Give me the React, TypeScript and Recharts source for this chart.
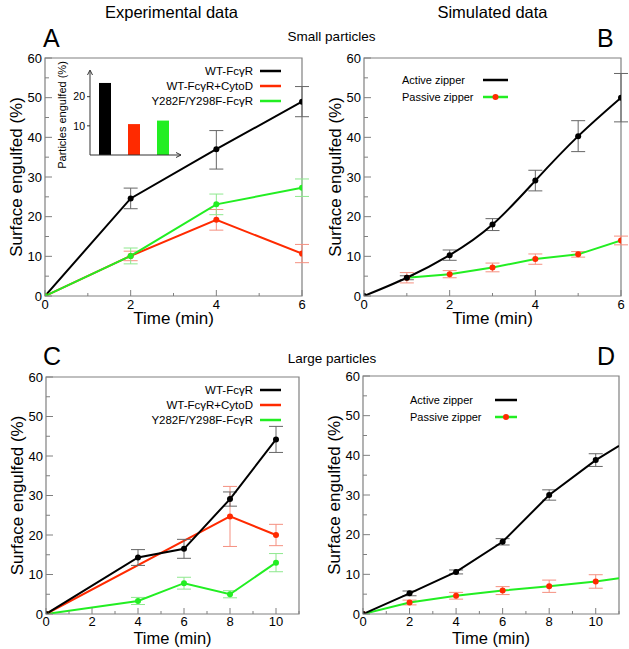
import React from "react";
import {
  LineChart,
  Line,
  XAxis,
  YAxis,
  ErrorBar,
  ReferenceArea,
  BarChart,
  Bar,
  Cell,
} from "recharts";

const FONT = '"Liberation Sans", Arial, Helvetica, sans-serif';
const BLACK = "#000000";
const RED = "#ff2a00";
const GREEN = "#22ee22";
const FRAME = "#808080";
const ERR_BLACK = "#666666";
const ERR_RED = "#f59080";
const ERR_GREEN = "#8ee88e";

type Err = number | [number, number] | undefined;

// A: small particles, experimental
const timeA = [0, 2, 4, 6];
const wtA = [0, 24.6, 37.0, 49.0];
const wtAErr: Err[] = [undefined, 2.6, [5.0, 4.7], 3.8];
const cytoA = [0, 10.1, 19.2, 10.7];
const cytoAErr: Err[] = [undefined, 1.2, 2.6, 2.3];
const mutA = [0, 10.1, 23.1, 27.3];
const mutAErr: Err[] = [undefined, 2.0, 2.6, 2.2];

// inset: particles engulfed
const insetNames = ["WT-FcγR", "WT-FcγR+CytoD", "Y282F/Y298F-FcγR"];
const insetValues = [24.7, 10.6, 11.8];

// B: small particles, simulated
const timeB = [0, 1, 2, 3, 4, 5, 6];
const activeB = [0, 4.6, 10.3, 18.0, 29.1, 40.3, 50.0];
const activeBErr: Err[] = [undefined, 0.5, 1.3, 1.5, 2.6, 3.9, 6.1];
const timeBPassive = [1, 2, 3, 4, 5, 6];
const passiveB = [4.6, 5.5, 7.2, 9.3, 10.5, 14.0];
const passiveBErr: Err[] = [1.3, 0.9, 1.1, 1.3, 0.7, 1.1];

// C: large particles, experimental
const timeC = [0, 4, 6, 8, 10];
const wtC = [0, 14.3, 16.5, 29.1, 44.2];
const wtCErr: Err[] = [undefined, 2.0, 2.4, 1.8, 3.3];
const timeCCyto = [0, 8, 10];
const cytoC = [0, 24.7, 20.0];
const cytoCErr: Err[] = [undefined, 7.6, 2.7];
const mutC = [0, 3.3, 7.8, 5.0, 13.0];
const mutCErr: Err[] = [undefined, 0.9, 1.5, 0.9, 2.3];

// D: large particles, simulated (last point is the curve end, no marker)
const timeD = [0, 2, 4, 6, 8, 10, 11];
const activeD = [0, 5.2, 10.6, 18.2, 30.0, 38.8, 42.4];
const activeDErr: Err[] = [undefined, 0.6, 0.5, 0.8, 1.3, 1.6, undefined];
const passiveD = [0, 2.9, 4.6, 5.9, 7.0, 8.2, 9.0];
const passiveDErr: Err[] = [undefined, 0.6, 0.85, 1.0, 1.55, 1.7, undefined];

const yTicks = [0, 5, 10, 15, 20, 25, 30, 35, 40, 45, 50, 55, 60];
const xTicksShort = [0, 1, 2, 3, 4, 5, 6];
const xTicksLong = [0, 1, 2, 3, 4, 5, 6, 7, 8, 9, 10, 11];

const rows = (xs: number[], ys: number[], errs: Err[], lastNoDot = false) =>
  xs.map((x, i) => ({
    x,
    y: ys[i],
    err: errs[i],
    noDot: lastNoDot && i === xs.length - 1,
  }));

interface Series {
  name: string;
  data: ReturnType<typeof rows>;
  color: string;
  dotColor: string;
  errColor: string;
  curve?: "linear" | "natural";
}

const XTick = (props: any) => {
  const { x, y, payload, labelGap } = props;
  const major = payload.value % 2 === 0;
  return (
    <g>
      <line x1={x} x2={x} y1={y} y2={y - (major ? 6 : 3)} stroke={FRAME} />
      {major && (
        <text x={x} y={y + labelGap} textAnchor="middle" fontSize={13} fontFamily={FONT} fill={BLACK}>
          {payload.value}
        </text>
      )}
    </g>
  );
};

const YTick = (props: any) => {
  const { x, y, payload } = props;
  const major = payload.value % 10 === 0;
  return (
    <g>
      <line x1={x} x2={x + (major ? 7 : 4)} y1={y} y2={y} stroke={FRAME} />
      {major && (
        <text x={x - 3} y={y + 4.5} textAnchor="end" fontSize={13} fontFamily={FONT} fill={BLACK}>
          {payload.value}
        </text>
      )}
    </g>
  );
};

interface PanelProps {
  left: number;
  top: number;
  width: number;
  height: number;
  marginTop: number;
  marginRight: number;
  yAxisWidth: number;
  xAxisHeight: number;
  labelGap: number;
  xMax: number;
  xTicks: number[];
  series: Series[];
}

const Panel = (p: PanelProps) => (
  <div style={{ position: "absolute", left: p.left, top: p.top }}>
    <LineChart
      width={p.width}
      height={p.height}
      margin={{ top: p.marginTop, right: p.marginRight, left: 0, bottom: 0 }}
    >
      <XAxis
        dataKey="x"
        type="number"
        domain={[0, p.xMax]}
        ticks={p.xTicks}
        interval={0}
        height={p.xAxisHeight}
        tickSize={0}
        tickMargin={0}
        tickLine={false}
        axisLine={false}
        tick={<XTick labelGap={p.labelGap} />}
        allowDataOverflow
      />
      <YAxis
        type="number"
        domain={[0, 60]}
        ticks={yTicks}
        interval={0}
        width={p.yAxisWidth}
        tickSize={0}
        tickMargin={0}
        tickLine={false}
        axisLine={false}
        tick={<YTick />}
        allowDataOverflow
      />
      <ReferenceArea
        x1={0}
        x2={p.xMax}
        y1={0}
        y2={60}
        fill="none"
        fillOpacity={0}
        stroke={FRAME}
        strokeWidth={1.2}
      />
      {p.series.map((s) => (
        <Line
          key={s.name}
          data={s.data}
          dataKey="y"
          name={s.name}
          type={s.curve ?? "linear"}
          stroke={s.color}
          strokeWidth={2}
          isAnimationActive={false}
          dot={(d: any) =>
            d.payload.noDot ? (
              <g key={`d-${s.name}-${d.index}`} />
            ) : (
              <circle key={`d-${s.name}-${d.index}`} cx={d.cx} cy={d.cy} r={3} fill={s.dotColor} />
            )
          }
          activeDot={false}
        >
          <ErrorBar dataKey="err" width={7} stroke={s.errColor} strokeWidth={1} direction="y" />
        </Line>
      ))}
    </LineChart>
  </div>
);

const Inset = () => {
  const data = insetNames.map((name, i) => ({ name, value: insetValues[i] }));
  const colors = [BLACK, RED, GREEN];
  return (
    <div style={{ position: "absolute", left: 60, top: 60 }}>
      <BarChart width={125} height={100} data={data} margin={{ top: 11, right: 4, left: 0, bottom: 0 }}>
        <XAxis
          dataKey="name"
          height={5}
          tick={false}
          tickLine={false}
          axisLine={{ stroke: "#333" }}
          padding={{ left: 0, right: 4 }}
        />
        <YAxis
          domain={[0, 28.8]}
          ticks={[0, 10, 20]}
          width={30}
          tickSize={3}
          tickLine={{ stroke: "#333" }}
          axisLine={{ stroke: "#333" }}
          tick={{ fontSize: 10.5, fontFamily: FONT, fill: BLACK }}
          allowDataOverflow
        />
        <Bar dataKey="value" barSize={12} isAnimationActive={false}>
          {data.map((d, i) => (
            <Cell key={d.name} fill={colors[i]} />
          ))}
        </Bar>
      </BarChart>
    </div>
  );
};

const T = (props: any) => <text fontFamily={FONT} fill={BLACK} {...props} />;

const YLabel = ({ x, y, size = 17, children }: any) => (
  <g transform={`translate(${x},${y}) rotate(-90)`}>
    <T x={0} y={0} textAnchor="middle" fontSize={size}>
      {children}
    </T>
  </g>
);

const ExpLegend = ({ top }: { top: number }) => (
  <g>
    {[
      ["WT-FcγR", BLACK],
      ["WT-FcγR+CytoD", RED],
      ["Y282F/Y298F-FcγR", GREEN],
    ].map(([label, color], i) => (
      <g key={label}>
        <T x={253} y={top + i * 15 + 4} textAnchor="end" fontSize={11.5}>
          {label}
        </T>
        <line x1={260} x2={281} y1={top + i * 15} y2={top + i * 15} stroke={color} strokeWidth={2.5} />
      </g>
    ))}
  </g>
);

const SimLegend = ({ textX, lineX1, lineX2, top }: any) => (
  <g>
    <T x={textX} y={top + 4} fontSize={11}>
      Active zipper
    </T>
    <line x1={lineX1} x2={lineX2} y1={top} y2={top} stroke={BLACK} strokeWidth={2.5} />
    <T x={textX} y={top + 21} fontSize={11}>
      Passive zipper
    </T>
    <line x1={lineX1} x2={lineX2} y1={top + 17} y2={top + 17} stroke={GREEN} strokeWidth={2.5} />
    <circle cx={(lineX1 + lineX2) / 2} cy={top + 17} r={3} fill={RED} />
  </g>
);

export default function App() {
  return (
    <div
      style={{
        position: "absolute",
        left: 0,
        top: 0,
        width: 629,
        height: 649,
        background: "#fff",
        fontFamily: FONT,
      }}
    >
      <Panel
        left={0}
        top={0}
        width={310}
        height={320}
        marginTop={58}
        marginRight={8}
        yAxisWidth={45}
        xAxisHeight={24}
        labelGap={13}
        xMax={6}
        xTicks={xTicksShort}
        series={[
          { name: "wtA", data: rows(timeA, wtA, wtAErr), color: BLACK, dotColor: BLACK, errColor: ERR_BLACK },
          { name: "cytoA", data: rows(timeA, cytoA, cytoAErr), color: RED, dotColor: RED, errColor: ERR_RED },
          { name: "mutA", data: rows(timeA, mutA, mutAErr), color: GREEN, dotColor: GREEN, errColor: ERR_GREEN },
        ]}
      />
      <Panel
        left={310}
        top={0}
        width={319}
        height={320}
        marginTop={58}
        marginRight={8}
        yAxisWidth={54}
        xAxisHeight={24}
        labelGap={13}
        xMax={6}
        xTicks={xTicksShort}
        series={[
          { name: "passiveB", data: rows(timeBPassive, passiveB, passiveBErr), color: GREEN, dotColor: RED, errColor: ERR_RED },
          { name: "activeB", data: rows(timeB, activeB, activeBErr), color: BLACK, dotColor: BLACK, errColor: ERR_BLACK, curve: "natural" },
        ]}
      />
      <Panel
        left={0}
        top={320}
        width={310}
        height={329}
        marginTop={57}
        marginRight={11}
        yAxisWidth={46}
        xAxisHeight={35}
        labelGap={12}
        xMax={11}
        xTicks={xTicksLong}
        series={[
          { name: "mutC", data: rows(timeC, mutC, mutCErr), color: GREEN, dotColor: GREEN, errColor: ERR_GREEN },
          { name: "cytoC", data: rows(timeCCyto, cytoC, cytoCErr), color: RED, dotColor: RED, errColor: ERR_RED },
          { name: "wtC", data: rows(timeC, wtC, wtCErr), color: BLACK, dotColor: BLACK, errColor: ERR_BLACK },
        ]}
      />
      <Panel
        left={310}
        top={320}
        width={319}
        height={329}
        marginTop={56}
        marginRight={10}
        yAxisWidth={53}
        xAxisHeight={35}
        labelGap={12}
        xMax={11}
        xTicks={xTicksLong}
        series={[
          { name: "passiveD", data: rows(timeD, passiveD, passiveDErr, true), color: GREEN, dotColor: RED, errColor: ERR_RED },
          { name: "activeD", data: rows(timeD, activeD, activeDErr, true), color: BLACK, dotColor: BLACK, errColor: ERR_BLACK },
        ]}
      />
      <Inset />
      <svg
        width={629}
        height={649}
        style={{ position: "absolute", left: 0, top: 0, pointerEvents: "none" }}
      >
        <T x={171.5} y={18} textAnchor="middle" fontSize={16.5}>Experimental data</T>
        <T x={492.5} y={18} textAnchor="middle" fontSize={16.5}>Simulated data</T>
        <T x={331.5} y={41} textAnchor="middle" fontSize={13.5}>Small particles</T>
        <T x={332} y={363} textAnchor="middle" fontSize={13.5}>Large particles</T>
        <T x={43} y={47} fontSize={25}>A</T>
        <T x={597} y={47} fontSize={25}>B</T>
        <T x={43} y={365} fontSize={25}>C</T>
        <T x={597} y={365} fontSize={25}>D</T>
        <T x={173.5} y={324} textAnchor="middle" fontSize={17}>Time (min)</T>
        <T x={492.5} y={324} textAnchor="middle" fontSize={17}>Time (min)</T>
        <T x={172.5} y={644} textAnchor="middle" fontSize={16.5}>Time (min)</T>
        <T x={491} y={644} textAnchor="middle" fontSize={16.5}>Time (min)</T>
        <YLabel x={22} y={177}>Surface engulfed (%)</YLabel>
        <YLabel x={341} y={177}>Surface engulfed (%)</YLabel>
        <YLabel x={23} y={495.5}>Surface engulfed (%)</YLabel>
        <YLabel x={340} y={495}>Surface engulfed (%)</YLabel>
        <YLabel x={66} y={115} size={11}>Particles engulfed (%)</YLabel>
        <path d="M87.5,75 L90,70 L92.5,75" fill="none" stroke="#333" />
        <path d="M176,152.5 L181,155 L176,157.5" fill="none" stroke="#333" />
        <ExpLegend top={71} />
        <ExpLegend top={390} />
        <SimLegend textX={402} lineX1={483} lineX2={508} top={80} />
        <SimLegend textX={410} lineX1={495} lineX2={517} top={400} />
      </svg>
    </div>
  );
}
